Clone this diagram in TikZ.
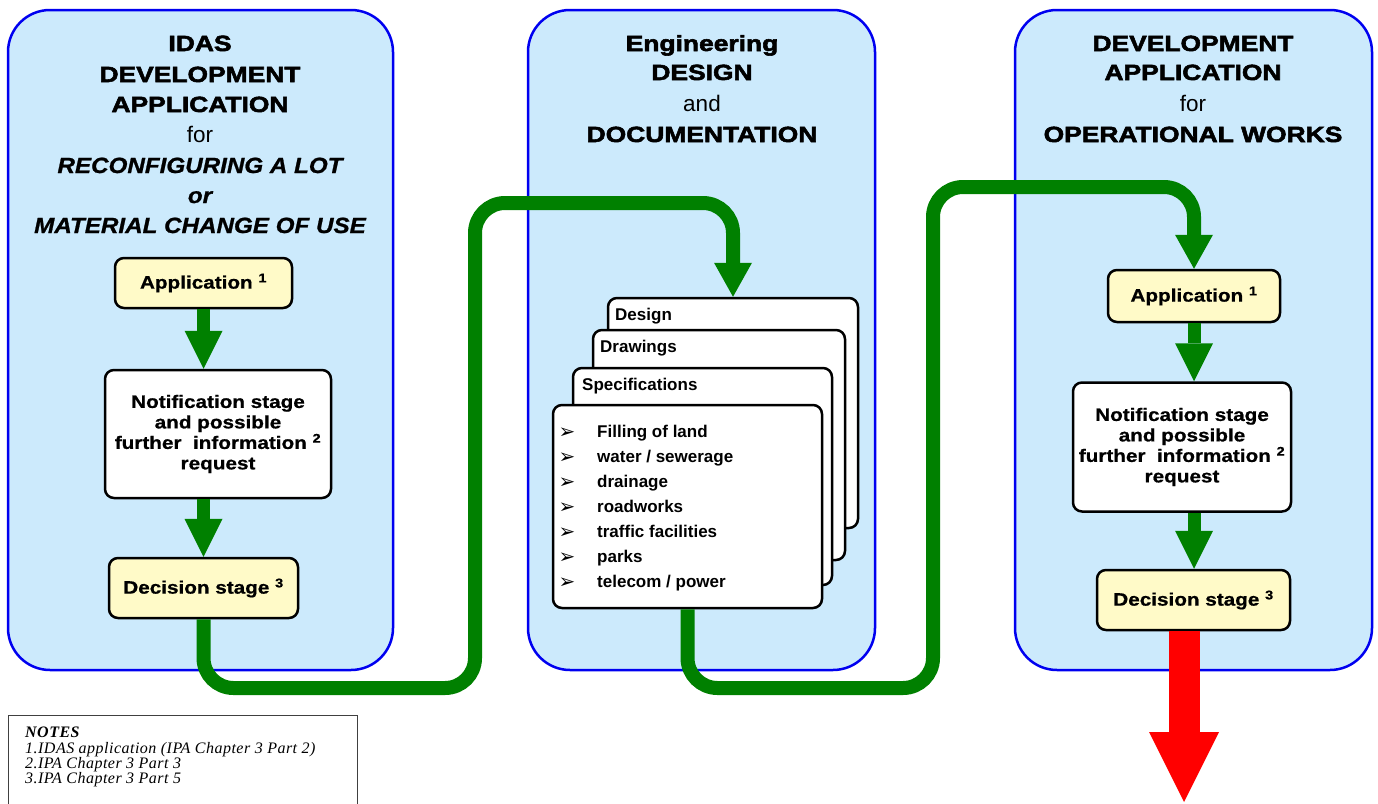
\documentclass[tikz,border=0pt]{standalone}
\usepackage{fontspec}
\setmainfont{Liberation Sans}
\newfontfamily\headfont[FakeStretch=1.2,FakeBold=2.5]{Liberation Sans}
\newfontfamily\itheadfont[FakeStretch=1.1,FakeBold=1]{Liberation Sans}
\newfontfamily\boxfont[FakeStretch=1.15,FakeBold=0.8]{Liberation Sans}
\newfontfamily\notefont[LetterSpace=3]{Liberation Serif}
\newfontfamily\symfont{DejaVu Sans}
\usetikzlibrary{arrows.meta}
\definecolor{panelfill}{RGB}{204,234,252}
\definecolor{panelblue}{RGB}{0,0,240}
\definecolor{boxyellow}{RGB}{255,250,200}
\definecolor{garrow}{RGB}{0,128,0}
\definecolor{rarrow}{RGB}{255,0,0}
\newcommand\ttlfont{\fontsize{22}{26}\headfont\bfseries}
\newcommand\ittlfont{\fontsize{22}{26}\itheadfont\bfseries\itshape}
\newcommand\rgfont{\fontsize{22.5}{26}\selectfont}
\newcommand\boxtxt{\fontsize{18}{20.5}\boxfont\bfseries}
\newcommand\listtxt{\fontsize{17}{20}\selectfont\bfseries}
\begin{document}
\begin{tikzpicture}[x=1pt,y=-1pt,
  panel/.style={draw=panelblue,line width=2.5pt,fill=panelfill,rounded corners=42pt,inner sep=0pt,outer sep=0pt},
  ybox/.style={draw=black,line width=2.5pt,fill=boxyellow,rounded corners=9pt,inner sep=0pt,align=center,font=\boxtxt},
  wbox/.style={draw=black,line width=2.5pt,fill=white,rounded corners=9pt,inner sep=0pt,align=center,font=\boxtxt},
  sheet/.style={draw=black,line width=2.5pt,fill=white,rounded corners=9pt,inner sep=0pt},
  ttl/.style={anchor=base,inner sep=0pt,font=\ttlfont},
  ittl/.style={anchor=base,inner sep=0pt,font=\ittlfont},
  rtl/.style={anchor=base,inner sep=0pt,font=\rgfont},
  lbl/.style={anchor=base west,inner sep=0pt,font=\listtxt},
  bul/.style={anchor=base,inner sep=0pt,font=\fontsize{20}{22}\symfont},
  note/.style={anchor=base west,inner sep=0pt,font=\fontsize{16}{18}\notefont\itshape},
  gsmall/.style={draw=garrow,line width=13pt,-{Triangle[length=38pt,width=38pt,line width=0pt]}},
  gconn/.style={draw=garrow,line width=14pt,rounded corners=30pt,-{Triangle[length=34pt,width=38pt,line width=0pt]}},
  redarr/.style={draw=rarrow,line width=31pt,-{Triangle[length=70pt,width=70pt,line width=0pt]}}
]
\useasboundingbox (0,0) rectangle (1378,803);

% panels
\node[panel,minimum width=385pt,minimum height=660pt] (p1) at (200.5,340) {};
\node[panel,minimum width=347pt,minimum height=660pt] (p2) at (701.5,340) {};
\node[panel,minimum width=357pt,minimum height=660pt] (p3) at (1193.5,340) {};

% left titles
\node[ttl] (l1) at (200,51) {IDAS};
\node[ttl] (l2) at (200,82) {DEVELOPMENT};
\node[ttl] (l3) at (200,112) {APPLICATION};
\node[rtl] (l4) at (200,142) {for};
\node[ittl] (l5) at (200,173) {RECONFIGURING A LOT};
\node[ittl] (l6) at (200,203) {or};
\node[ittl] (l7) at (200,233) {MATERIAL CHANGE OF USE};

% middle titles
\node[ttl] (m1) at (702,51) {Engineering};
\node[ttl] (m2) at (702,80) {DESIGN};
\node[rtl] (m3) at (702,111) {and};
\node[ttl] (m4) at (702,142) {DOCUMENTATION};

% right titles
\node[ttl] (r1) at (1193,51) {DEVELOPMENT};
\node[ttl] (r2) at (1193,80) {APPLICATION};
\node[rtl] (r3) at (1193,111) {for};
\node[ttl] (r4) at (1193,142) {OPERATIONAL WORKS};

% left boxes
\node[ybox,minimum width=177pt,minimum height=50pt] (app1) at (203.5,283) {Application \textsuperscript{1}};
\node[wbox,minimum width=226pt,minimum height=128pt] (notif1) at (218,434) {Notification stage\\and possible\\further\ \ information \textsuperscript{2}\\request};
\node[ybox,minimum width=189pt,minimum height=60pt] (dec1) at (203.5,588) {Decision stage \textsuperscript{3}};
\coordinate (s1) at (app1.south |- notif1.south);
\draw[gsmall] (app1.south) -- (app1.south |- notif1.north);
\draw[gsmall] (s1) -- (s1 |- dec1.north);

% right boxes
\node[ybox,minimum width=172pt,minimum height=52pt] (app3) at (1194,296) {Application \textsuperscript{1}};
\node[wbox,minimum width=218pt,minimum height=129pt] (notif3) at (1182,447) {Notification stage\\and possible\\further\ \ information \textsuperscript{2}\\request};
\node[ybox,minimum width=193pt,minimum height=60pt] (dec3) at (1193.5,600) {Decision stage \textsuperscript{3}};
\coordinate (s3) at (app3.south |- notif3.south);
\draw[gsmall] (app3.south) -- (app3.south |- notif3.north);
\draw[gsmall] (s3) -- (s3 |- dec3.north);

% middle stack
\node[sheet,minimum width=250pt,minimum height=230pt] (design) at (733,413) {};
\node[lbl] (designl) at (615,320) {Design};
\node[sheet,minimum width=252pt,minimum height=230pt] (drawings) at (719,445) {};
\node[lbl] (drawingsl) at (600,352) {Drawings};
\node[sheet,minimum width=259pt,minimum height=217pt] (specs) at (702.5,476.5) {};
\node[lbl] (specsl) at (582,390) {Specifications};
\node[sheet,minimum width=269pt,minimum height=203pt] (front) at (687.5,506.5) {};
\foreach \t [count=\i] in {Filling of land, water / sewerage, drainage, roadworks, traffic facilities, parks, telecom / power}{
  \node[bul] (b\i) at (567,413+25*\i) {➢};
  \node[lbl] (it\i) at (597,412+25*\i) {\t};
}

% connectors
\coordinate (k1) at (475,688);
\coordinate (k2) at (475,203);
\draw[gconn] (dec1.south) |- (k1) -- (k2) -| (design.north);
\coordinate (k3) at (933,688);
\coordinate (k4) at (933,187);
\draw[gconn] (front.south) |- (k3) -- (k4) -| (app3.north);

% red arrow
\coordinate (redtip) at (1184,802);
\draw[redarr] (redtip |- dec3.south) -- (redtip);

% notes
\node[draw=black!75,line width=1.2pt,minimum width=349pt,minimum height=100pt,anchor=north west,inner sep=0pt] (notes) at (8,715) {};
\node[note,font=\fontsize{16}{18}\notefont\bfseries\itshape] (n0) at (25,737) {NOTES};
\node[note] (n1) at (25,753) {1.IDAS application (IPA Chapter 3 Part 2)};
\node[note] (n2) at (25,768) {2.IPA Chapter 3 Part 3};
\node[note] (n3) at (25,783) {3.IPA Chapter 3 Part 5};
\end{tikzpicture}
\end{document}
